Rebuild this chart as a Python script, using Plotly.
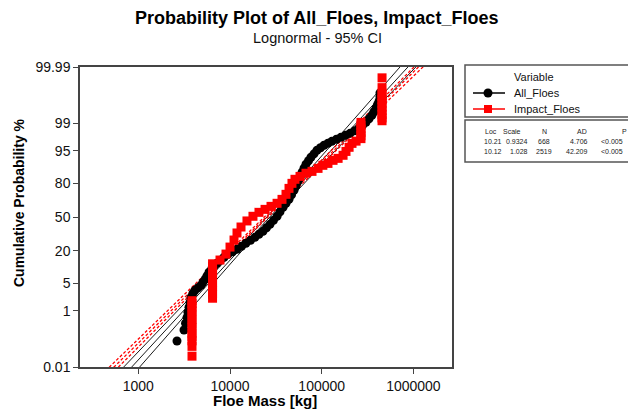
import numpy as np
import plotly.graph_objects as go
from statistics import NormalDist

# ---------------- data ----------------
# All_Floes: floe mass (kg) and plotted cumulative probability (%)
all_mass = [2640, 3150, 3275, 3400, 3480, 3570, 3660, 3760, 3950, 4150,
            4480, 4830, 5070, 5340, 5610, 5900, 6280, 6690, 7210, 7790,
            8610, 9510, 10650, 11900, 13340, 14900, 16750, 18700, 20700, 22900,
            25000, 27300, 29800, 32600, 35100, 37900, 40800, 44000, 46900, 49900,
            52500, 55200, 58000, 61000, 64100, 67400, 71800, 76400, 82400, 88900,
            97000, 106000, 117000, 129000, 145000, 162000, 182000, 204000, 228000, 255000,
            279000, 304000, 328000, 353000, 372000, 391000, 406000, 421000, 432000, 432000]
all_pct = [0.105, 0.254, 0.42, 0.644, 0.91, 1.26, 1.72, 2.32, 2.93, 3.46,
           3.96, 4.51, 5.26, 6.12, 7.24, 8.52, 9.73, 11.07, 12.55, 14.14,
           15.89, 17.75, 19.41, 21.16, 23.37, 25.72, 28.16, 30.72, 33.4, 36.13,
           39.44, 42.8, 46.7, 50.7, 55.1, 59.5, 63.3, 67.0, 70.9, 74.6,
           78.05, 81.2, 84.06, 86.6, 88.65, 90.44, 91.83, 93.06, 94.14, 95.09,
           95.69, 96.23, 96.62, 96.97, 97.3, 97.59, 97.86, 98.1, 98.37, 98.61,
           98.85, 99.06, 99.26, 99.42, 99.545, 99.648, 99.73, 99.79, 99.856, 99.895]

# Impact_Floes: many tied masses give vertical runs of points
impact_mass = ([3850] * 13 + [6450] * 10 +
               [7780, 9040, 10000, 11060, 11920, 13180, 15310, 17800, 20700, 24100,
                28000, 32600, 36900, 40800, 44000, 47400, 51100, 58000, 67400, 78400,
                91200, 103000, 117000, 133000, 151000, 171000, 184000, 199000, 214000, 237000] +
               [268000] * 6 + [455000] * 11)
impact_pct = [0.028, 0.067, 0.107, 0.15, 0.2, 0.3, 0.4, 0.55, 0.75, 1.0, 1.3, 1.6, 1.9,
              2.2, 2.8, 3.5, 4.3, 5.3, 6.5, 7.8, 9.3, 11.0, 12.3,
              14.3, 17.9, 22.8, 28.4, 34.6, 40.2, 46.1, 50.7, 54.6, 57.5,
              60.4, 63.3, 66.9, 71.3, 76.1, 79.8, 82.5, 84.3, 86.1, 87.1,
              88.6, 90.0, 90.8, 92.0, 92.7, 93.7, 94.8, 95.8, 96.6, 97.0,
              97.4, 97.8, 98.2, 98.55, 98.85, 99.05,
              99.15, 99.3, 99.45, 99.58, 99.68, 99.76, 99.82, 99.86, 99.893, 99.933, 99.972]

# Lognormal fit summary
fit_names = ["All_Floes", "Impact_Floes"]
fit_loc = [10.21, 10.12]
fit_scale = [0.9324, 1.028]
fit_n = [668, 2519]
fit_ad = ["4.706", "42.209"]
fit_p = ["<0.005", "<0.005"]

y_tick_pct = [0.01, 1, 5, 20, 50, 80, 95, 99, 99.99]
y_tick_text = ["0.01", "1", "5", "20", "50", "80", "95", "99", "99.99"]
x_tick_vals = [1000, 10000, 100000, 1000000]
x_tick_text = ["1000", "10000", "100000", "1000000"]

# ---------------- helpers ----------------
ND = NormalDist()


def zq(p):
    """Normal quantile of a percentage (probability-paper scale)."""
    return ND.inv_cdf(p / 100.0)


W, H = 628, 409
L, R, T, B = 80, 176, 67, 42
PW, PH = W - L - R, H - T - B


def px(x):
    return (x - L) / PW


def py(y):
    return (H - B - y) / PH


FONT = "Liberation Sans"
series_color = ["#000000", "#ff0000"]

fig = go.Figure()

# fitted line with 95% confidence bounds (ln x = loc + scale * z)
z = np.linspace(-3.9, 3.9, 240)
for k in range(2):
    centre = fit_loc[k] + fit_scale[k] * z
    se = fit_scale[k] * np.sqrt(1.0 / fit_n[k] + z ** 2 / (2.0 * fit_n[k]))
    for off in (-1.96, 0.0, 1.96):
        fig.add_trace(go.Scatter(
            x=np.exp(centre + off * se), y=z, mode="lines",
            line=dict(color="#1a1a1a" if k == 0 else "#ff0000",
                      width=1.0 if k == 0 else 1.3,
                      dash="solid" if k == 0 else "3px,2px"),
            showlegend=False, hoverinfo="skip"))

# plotted points
fig.add_trace(go.Scatter(
    x=all_mass, y=[zq(p) for p in all_pct], mode="markers",
    marker=dict(symbol="circle", size=9, color=series_color[0], line=dict(width=0)),
    showlegend=False))
fig.add_trace(go.Scatter(
    x=impact_mass, y=[zq(p) for p in impact_pct], mode="markers",
    marker=dict(symbol="square", size=9, color=series_color[1], line=dict(width=0)),
    showlegend=False))

zlim = zq(99.99)
axis_font = dict(family=FONT, size=14, color="#111111")
fig.update_xaxes(type="log", range=[2.364, 6.421], tickvals=x_tick_vals, ticktext=x_tick_text,
                 ticks="outside", ticklen=5, tickcolor="#444444", tickfont=axis_font,
                 showgrid=False, zeroline=False, showline=True, mirror=True,
                 linecolor="#444444", linewidth=1.5)
fig.update_yaxes(range=[-zlim, zlim], tickvals=[zq(p) for p in y_tick_pct], ticktext=y_tick_text,
                 ticks="outside", ticklen=5, tickcolor="#444444", tickfont=axis_font,
                 showgrid=False, zeroline=False, showline=True, mirror=True,
                 linecolor="#444444", linewidth=1.5)

ann = []
ann.append(dict(x=px(316), y=py(18), text="<b>Probability Plot of All_Floes, Impact_Floes</b>",
                font=dict(family=FONT, size=18, color="#000000")))
ann.append(dict(x=px(317), y=py(38), text="Lognormal - 95% CI",
                font=dict(family=FONT, size=14.5, color="#111111")))
ann.append(dict(x=px(265), y=py(400), text="<b>Floe Mass [kg]</b>",
                font=dict(family=FONT, size=15, color="#000000")))
ann.append(dict(x=px(19), y=py(203), text="<b>Cumulative Probability %</b>", textangle=-90,
                font=dict(family=FONT, size=14, color="#000000")))

# legend: title, two entries (line with marker) and names
lfont = dict(family=FONT, size=11, color="#111111")
ann.append(dict(x=px(512), y=py(77), text="Variable", xanchor="left", font=lfont))
legend_y = [93, 109]
for k in range(2):
    ann.append(dict(x=px(512), y=py(legend_y[k]), text=fit_names[k], xanchor="left", font=lfont))

# summary table: (header, header x, header anchor, value x, value anchor, values)
tfont = dict(family=FONT, size=7, color="#222222")
cols = [("Loc", 483, "left", 504, "right", [f"{v:.2f}" for v in fit_loc]),
        ("Scale", 523, "right", 530, "right", [f"{v:.4g}" for v in fit_scale]),
        ("N", 544, "center", 544, "center", [str(v) for v in fit_n]),
        ("AD", 589, "right", 590, "right", fit_ad),
        ("P", 624, "center", 625, "right", fit_p)]
row_y = [141, 151]
for head, hx, hanchor, vx, vanchor, vals in cols:
    ann.append(dict(x=px(hx), y=py(131), text=head, xanchor=hanchor, font=tfont))
    for v, ry in zip(vals, row_y):
        ann.append(dict(x=px(vx), y=py(ry), text=v, xanchor=vanchor, font=tfont))

for a in ann:
    a.setdefault("xref", "paper")
    a.setdefault("yref", "paper")
    a.setdefault("showarrow", False)
    a.setdefault("xanchor", "center")
    a.setdefault("yanchor", "middle")

shapes = [
    dict(type="rect", xref="paper", yref="paper", x0=px(465), x1=px(660), y0=py(117), y1=py(65),
         line=dict(color="#555555", width=1.5), fillcolor="rgba(0,0,0,0)"),
    dict(type="rect", xref="paper", yref="paper", x0=px(465), x1=px(660), y0=py(162), y1=py(120),
         line=dict(color="#555555", width=1.5), fillcolor="rgba(0,0,0,0)"),
]
# legend keys
for k in range(2):
    ly = legend_y[k]
    shapes.append(dict(type="line", xref="paper", yref="paper", x0=px(473), x1=px(505),
                       y0=py(ly), y1=py(ly), line=dict(color=series_color[k], width=1.5)))
shapes.append(dict(type="circle", xref="paper", yref="paper", x0=px(483.5), x1=px(492.5),
                   y0=py(legend_y[0] + 4.5), y1=py(legend_y[0] - 4.5),
                   fillcolor=series_color[0], line=dict(width=0)))
shapes.append(dict(type="rect", xref="paper", yref="paper", x0=px(484), x1=px(492),
                   y0=py(legend_y[1] + 4), y1=py(legend_y[1] - 4),
                   fillcolor=series_color[1], line=dict(width=0)))

fig.update_layout(
    width=W, height=H, margin=dict(l=L, r=R, t=T, b=B),
    paper_bgcolor="white", plot_bgcolor="white",
    annotations=ann, shapes=shapes,
    showlegend=False,
)

fig.write_html("out.html")
